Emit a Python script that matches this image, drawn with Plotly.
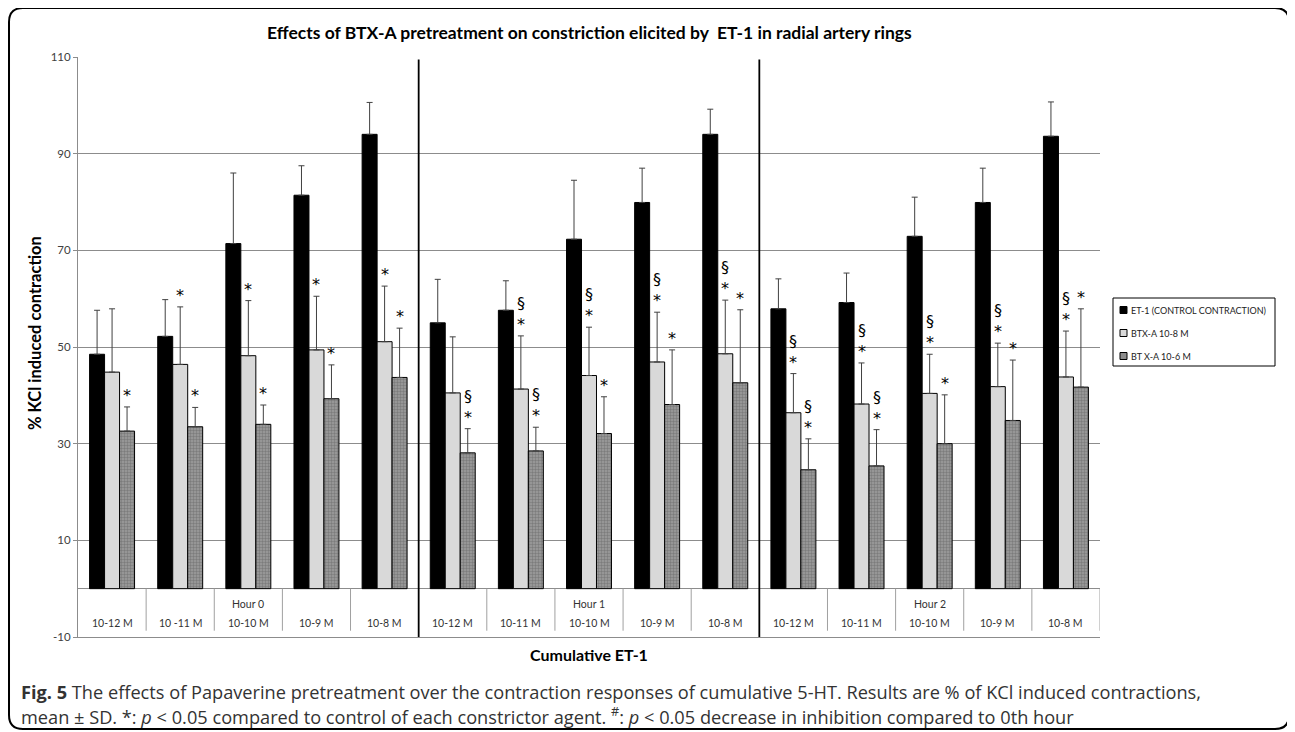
import plotly.graph_objects as go

# ---------------------------------------------------------------------------------------------------------------- Data
CONC_LABELS = ["10-12 M", "10 -11 M", "10-10 M", "10-9 M", "10-8 M",
               "10-12 M", "10-11 M", "10-10 M", "10-9 M", "10-8 M",
               "10-12 M", "10-11 M", "10-10 M", "10-9 M", "10-8 M"]
HOUR_LABELS = ["Hour 0", "Hour 1", "Hour 2"]
Y_TICKS = [-10, 10, 30, 50, 70, 90, 110]

ET1_MEAN = [48.5, 52.2, 71.4, 81.4, 94.0, 55.0, 57.6, 72.3, 79.9, 94.0, 57.9, 59.2, 72.9, 79.9, 93.6]
ET1_SD = [9.1, 7.6, 14.6, 6.1, 6.6, 9.0, 6.1, 12.2, 7.1, 5.2, 6.2, 6.1, 8.1, 7.1, 7.1]

BTX8_MEAN = [44.8, 46.4, 48.2, 49.4, 51.1, 40.5, 41.3, 44.1, 46.9, 48.6, 36.4, 38.2, 40.4, 41.8, 43.8]
BTX8_SD = [13.1, 11.9, 11.4, 11.1, 11.5, 11.6, 11.0, 10.0, 10.3, 11.1, 8.1, 8.5, 8.1, 9.0, 9.5]

BTX6_MEAN = [32.6, 33.5, 34.0, 39.3, 43.7, 28.1, 28.5, 32.1, 38.1, 42.6, 24.6, 25.4, 30.0, 34.8, 41.7]
BTX6_SD = [5.0, 4.0, 4.0, 7.0, 10.2, 5.0, 4.9, 7.6, 11.3, 15.1, 6.4, 7.5, 10.1, 12.5, 16.2]

# significance marks drawn above the BTX bars
BTX8_MARKS = ["", "*", "*", "*", "*", "", "§*", "§*", "§*", "§*", "§*", "§*", "§*", "§*", "§*"]
BTX6_MARKS = ["*", "*", "*", "*", "*", "§*", "§*", "*", "*", "*", "§*", "§*", "*", "*", "*"]

SERIES_NAMES = ["ET-1 (CONTROL CONTRACTION)", "BTX-A 10-8 M", "BT X-A 10-6 M"]

# -------------------------------------------------------------------------------------------------------------- Layout
# page coordinates (the html body adds an 8 px margin round the figure)
PAGE_OFF = 8
W, H = 1295 - PAGE_OFF, 732 - PAGE_OFF
PLOT_L, PLOT_R, PLOT_T, PLOT_B = 78, 1100, 57, 637
FONT = "Lato"
GRID = "#8c8c8c"
BAR_W = 0.22


def px_x(p):
    return (p - PLOT_L) / (PLOT_R - PLOT_L)


def px_y(p):
    return (PLOT_B - p) / (PLOT_B - PLOT_T)


positions = list(range(len(CONC_LABELS)))
err_style = dict(type="data", symmetric=False, arrayminus=[0] * len(positions),
                 color="#404040", thickness=1, width=3)

fig = go.Figure()
fig.add_bar(x=positions, y=ET1_MEAN, name=SERIES_NAMES[0],
            marker=dict(color="#000000", line=dict(color="#000000", width=1)),
            error_y=dict(array=ET1_SD, **err_style))
fig.add_bar(x=positions, y=BTX8_MEAN, name=SERIES_NAMES[1],
            marker=dict(color="#d9d9d9", line=dict(color="#000000", width=1)),
            error_y=dict(array=BTX8_SD, **err_style))
fig.add_bar(x=positions, y=BTX6_MEAN, name=SERIES_NAMES[2],
            marker=dict(color="#8c8c8c", line=dict(color="#000000", width=1),
                        pattern=dict(shape=".", size=3, solidity=0.5, fgcolor="#5a5a5a", bgcolor="#9e9e9e")),
            error_y=dict(array=BTX6_SD, **err_style))

annotations = []
shapes = []

# significance symbols above error bars
for i in positions:
    for mark, mean, sd, off in ((BTX8_MARKS[i], BTX8_MEAN[i], BTX8_SD[i], 0.0),
                                (BTX6_MARKS[i], BTX6_MEAN[i], BTX6_SD[i], BAR_W)):
        if not mark:
            continue
        annotations.append(dict(x=i + off, y=mean + sd, xref="x", yref="y", text="<br>".join(mark),
                                showarrow=False, yanchor="bottom", yshift=0,
                                font=dict(family="DejaVu Sans", size=16, color="#000000")))

# category table beneath the zero line
for i, lab in enumerate(CONC_LABELS):
    annotations.append(dict(x=i, y=-7.2, xref="x", yref="y", text=lab, showarrow=False,
                            font=dict(family=FONT, size=10.5, color="#333333")))
for k, hour in enumerate(HOUR_LABELS):
    annotations.append(dict(x=k * 5 + 2, y=-3.1, xref="x", yref="y", text=hour, showarrow=False,
                            font=dict(family=FONT, size=10.5, color="#333333")))
for i in positions:
    b = i + 0.5
    if b in (4.5, 9.5):
        continue
    shapes.append(dict(type="line", xref="x", yref="y", x0=b, x1=b, y0=0, y1=-8.7,
                       line=dict(color="#a0a0a0", width=1)))
for b in (4.5, 9.5):
    shapes.append(dict(type="line", xref="x", yref="y", x0=b, x1=b, y0=-10, y1=109.5,
                       line=dict(color="#000000", width=1.8)))

# custom legend box
shapes.append(dict(type="rect", xref="paper", yref="paper", x0=px_x(1113), x1=px_x(1275),
                   y0=px_y(366), y1=px_y(298), line=dict(color="#000000", width=1), fillcolor="white"))
legend_fill = ["#000000", "#d9d9d9", "#8c8c8c"]
for k, name in enumerate(SERIES_NAMES):
    cy = 310 + k * 23
    shapes.append(dict(type="rect", xref="paper", yref="paper", x0=px_x(1120), x1=px_x(1127),
                       y0=px_y(cy + 3.5), y1=px_y(cy - 3.5), fillcolor=legend_fill[k],
                       line=dict(color="#000000", width=1)))
    annotations.append(dict(x=px_x(1129), y=px_y(cy), xref="paper", yref="paper", text=name,
                            showarrow=False, xanchor="left", yanchor="middle",
                            font=dict(family=FONT, size=9, color="#222222")))

# outer rounded frame
x0, y0, x1, y1, r = 9, 8, 1289, 729, 14


def pt(x, y):
    return f"{px_x(x):.5f},{px_y(y):.5f}"


frame = (f"M {pt(x0 + r, y0)} L {pt(x1 - r, y0)} Q {pt(x1, y0)} {pt(x1, y0 + r)} "
         f"L {pt(x1, y1 - r)} Q {pt(x1, y1)} {pt(x1 - r, y1)} L {pt(x0 + r, y1)} "
         f"Q {pt(x0, y1)} {pt(x0, y1 - r)} L {pt(x0, y0 + r)} Q {pt(x0, y0)} {pt(x0 + r, y0)} Z")
shapes.append(dict(type="path", xref="paper", yref="paper", path=frame, line=dict(color="#000000", width=2)))

# titles and caption
annotations.append(dict(x=0.5, y=px_y(33), xref="paper", yref="paper", showarrow=False,
                        xanchor="center", yanchor="middle",
                        text="<b>Effects of BTX-A pretreatment on constriction elicited by  ET-1 in radial artery rings</b>",
                        font=dict(family=FONT, size=17.5, color="#000000")))
annotations.append(dict(x=px_x(35), y=px_y(333), xref="paper", yref="paper", showarrow=False, textangle=-90,
                        xanchor="center", yanchor="middle",
                        text="<b>% KCl induced contraction</b>", font=dict(family=FONT, size=16.5, color="#000000")))
annotations.append(dict(x=0.5, y=px_y(654), xref="paper", yref="paper", showarrow=False,
                        xanchor="center", yanchor="middle",
                        text="<b>Cumulative ET-1</b>", font=dict(family=FONT, size=16, color="#000000")))
caption_font = dict(family="Open Sans", size=18.2, color="#333333")
annotations.append(dict(x=px_x(19), y=px_y(692), xref="paper", yref="paper", showarrow=False,
                        xanchor="left", yanchor="middle",
                        text="<b>Fig. 5</b> The effects of Papaverine pretreatment over the contraction responses "
                             "of cumulative 5-HT. Results are % of KCl induced contractions,",
                        font=caption_font))
annotations.append(dict(x=px_x(19), y=px_y(715), xref="paper", yref="paper", showarrow=False,
                        xanchor="left", yanchor="middle",
                        text="mean ± SD. *: <i>p</i> &lt; 0.05 compared to control of each constrictor agent. "
                             "<sup>#</sup>: <i>p</i> &lt; 0.05 decrease in inhibition compared to 0th hour",
                        font=caption_font))

fig.update_layout(
    width=W, height=H,
    margin=dict(l=PLOT_L - PAGE_OFF, r=W - (PLOT_R - PAGE_OFF), t=PLOT_T - PAGE_OFF,
                b=H - (PLOT_B - PAGE_OFF), autoexpand=False),
    paper_bgcolor="white", plot_bgcolor="white",
    barmode="group", bargap=0.34, bargroupgap=0,
    showlegend=False,
    annotations=annotations, shapes=shapes,
    xaxis=dict(range=[-0.5, 14.5], showticklabels=False, showgrid=False, zeroline=False,
               showline=True, linecolor=GRID, linewidth=1, ticks=""),
    yaxis=dict(range=[-10, 110], tickvals=Y_TICKS, ticktext=[str(v) for v in Y_TICKS], showgrid=True,
               gridcolor=GRID, gridwidth=1, zeroline=True, zerolinecolor=GRID, zerolinewidth=1,
               showline=True, linecolor=GRID, linewidth=1, ticks="outside", ticklen=4, tickcolor=GRID,
               tickfont=dict(family=FONT, size=11.5, color="#404040")),
)

fig.write_html("out.html")
